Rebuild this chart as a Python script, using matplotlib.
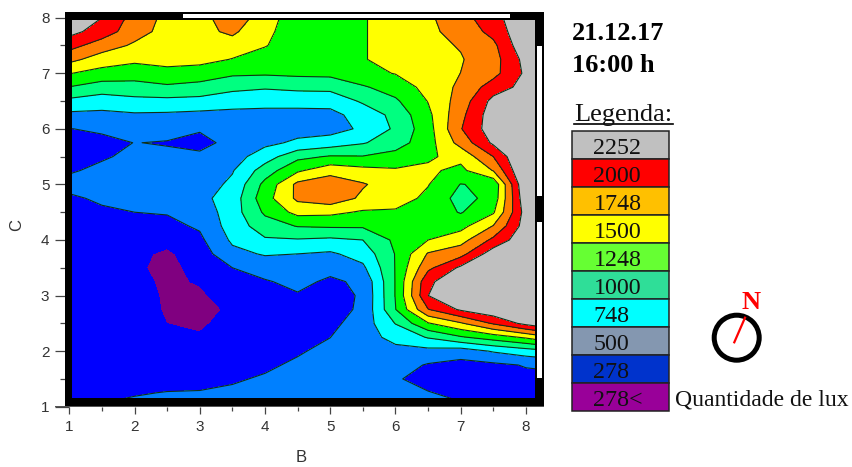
import numpy as np
import matplotlib
matplotlib.use("Agg")
import matplotlib.pyplot as plt
from matplotlib.patches import Circle, Rectangle
from matplotlib.ticker import MultipleLocator

# grid, each list is one column from C=8 down to C=1
c_values = [8, 7.75, 7.5, 7.25, 7, 6.75, 6.5, 6.25, 6, 5.75, 5.5, 5.25, 5, 4.75, 4.5,
            4.25, 4, 3.75, 3.5, 3.25, 3, 2.75, 2.5, 2.25, 2, 1.75, 1.5, 1.25, 1]
b_values = [1, 1.5, 2, 2.5, 3, 3.5, 4, 4.5, 5, 5.5, 6, 6.5, 7, 7.5, 8, 8.2]

b_10 = [2550, 2330, 2095, 1820, 1510, 1240, 940, 690, 495, 430, 440, 480, 560, 470, 420,
        400, 380, 370, 360, 360, 360, 370, 370, 380, 390, 400, 420, 450, 490]
b_15 = [2252, 2140, 1870, 1630, 1410, 1130, 875, 685, 530, 450, 480, 540, 560, 530, 470,
        420, 390, 350, 330, 320, 320, 330, 340, 360, 380, 400, 430, 470, 510]
b_20 = [1900, 1850, 1710, 1555, 1360, 1155, 930, 715, 560, 503, 540, 570, 580, 560, 500,
        420, 370, 320, 300, 320, 330, 310, 320, 340, 370, 400, 440, 490, 530]
b_25 = [1683, 1660, 1630, 1580, 1430, 1205, 935, 705, 560, 490, 530, 580, 590, 570, 515,
        440, 330, 245, 240, 250, 260, 270, 277, 310, 380, 410, 450, 505, 550]
b_30 = [1600, 1670, 1650, 1580, 1380, 1165, 920, 680, 520, 440, 540, 600, 620, 680, 590,
        530, 450, 380, 320, 290, 250, 225, 250, 295, 370, 400, 450, 510, 570]
b_35 = [2000, 1800, 1630, 1490, 1290, 1070, 845, 680, 600, 560, 640, 730, 800, 860, 880,
        860, 790, 680, 500, 420, 360, 305, 340, 380, 410, 440, 480, 530, 590]
b_40 = [1540, 1530, 1510, 1420, 1280, 1030, 810, 690, 650, 690, 880, 1120, 1320, 1400, 1290,
        1130, 970, 770, 600, 480, 440, 420, 410, 420, 440, 470, 520, 590, 650]
b_45 = [1450, 1430, 1400, 1360, 1300, 1070, 810, 690, 660, 790, 1180, 1460, 1810, 1800, 1580,
        1260, 980, 748, 660, 560, 480, 450, 440, 460, 480, 530, 590, 650, 700]
b_50 = [1440, 1420, 1390, 1340, 1310, 1080, 820, 690, 650, 870, 1270, 1660, 1900, 1900, 1560,
        1280, 950, 710, 570, 460, 420, 410, 440, 498, 550, 600, 640, 680, 720]
b_55 = [1470, 1470, 1470, 1480, 1430, 1220, 1040, 830, 790, 980, 1260, 1580, 1770, 1700, 1470,
        1280, 1000, 850, 700, 545, 525, 540, 610, 650, 670, 690, 700, 720, 730]
b_60 = [1680, 1680, 1680, 1620, 1510, 1360, 1210, 1080, 1040, 1130, 1340, 1530, 1620, 1600, 1470,
        1360, 1300, 1260, 1260, 1260, 1260, 1240, 1010, 820, 680, 600, 520, 560, 600]
b_65 = [1710, 1700, 1680, 1650, 1620, 1580, 1510, 1440, 1400, 1400, 1470, 1540, 1510, 1450, 1400,
        1430, 1500, 1770, 1940, 2200, 2250, 1990, 1480, 1020, 670, 480, 430, 510, 560]
b_70 = [1890, 1830, 1765, 1730, 1750, 1800, 1860, 1930, 1985, 1840, 1570, 1440, 1240, 1150, 1230,
        1420, 1650, 1910, 2300, 2450, 2450, 2290, 1720, 1220, 620, 420, 390, 450, 530]
b_75 = [2180, 2080, 1940, 1900, 1920, 2120, 2330, 2400, 2400, 2300, 2000, 1760, 1300, 1340, 1470,
        1760, 2060, 2400, 2550, 2600, 2600, 2450, 2030, 1370, 770, 450, 400, 430, 520]
b_80 = [2420, 2470, 2460, 2340, 2300, 2340, 2480, 2600, 2650, 2650, 2600, 2580, 2530, 2455, 2370,
        2380, 2450, 2600, 2650, 2650, 2650, 2600, 2330, 1540, 880, 515, 440, 430, 460]
b_82 = [2480, 2550, 2550, 2450, 2400, 2450, 2550, 2650, 2700, 2700, 2650, 2620, 2580, 2540, 2470,
        2470, 2530, 2650, 2700, 2700, 2700, 2650, 2420, 1640, 920, 530, 430, 420, 430]

levels = [0, 278, 500, 748, 1000, 1248, 1500, 1748, 2000, 2252, 3000]
map_colors = ["#800080", "#0000FF", "#0080FF", "#00FFFF", "#00FF80",
              "#00FF00", "#FFFF00", "#FF8000", "#FF0000", "#C0C0C0"]

legend_labels = ["2252", "2000", "1748", "1500", "1248", "1000", "748", "500", "278", "278<"]
legend_colors = ["#C0C0C0", "#FF0000", "#FFC000", "#FFFF00", "#66FF33",
                 "#2FDE98", "#00FFFF", "#8497B0", "#0033CC", "#990099"]

z = np.column_stack([b_10, b_15, b_20, b_25, b_30, b_35, b_40, b_45, b_50, b_55, b_60,
                     b_65, b_70, b_75, b_80, b_82])

W, H = 853, 467
fig = plt.figure(figsize=(W / 100, H / 100), dpi=100)

ax = fig.add_axes([69.3 / W, 1 - 406.7 / H, (539 - 69.3) / W, (406.7 - 17.7) / H])
ax.contourf(b_values, c_values, z, levels=levels, colors=map_colors)
ax.contour(b_values, c_values, z, levels=levels[2:-1], colors="#103018", linewidths=0.8)
ax.set_xlim(1, 8.2)
ax.set_ylim(1, 8)

ax.xaxis.set_major_locator(MultipleLocator(1))
ax.xaxis.set_minor_locator(MultipleLocator(0.5))
ax.yaxis.set_major_locator(MultipleLocator(1))
ax.yaxis.set_minor_locator(MultipleLocator(0.5))
ax.tick_params(axis="x", which="major", length=5, width=0.9, color="#444444", pad=4.5)
ax.tick_params(axis="x", which="minor", length=3, width=0.9, color="#444444")
ax.tick_params(axis="y", which="major", length=10.3, width=0.9, color="#444444", pad=4)
ax.tick_params(axis="y", which="minor", length=6.7, width=0.9, color="#444444")
for lab in ax.get_xticklabels() + ax.get_yticklabels():
    lab.set_family("Liberation Sans")
    lab.set_fontsize(11)
    lab.set_color("#333333")
for side in ["top", "right", "left"]:
    ax.spines[side].set_visible(False)
ax.spines["bottom"].set_visible(False)
ax.set_xlabel("B", family="Liberation Sans", fontsize=12, color="#333333")
ax.set_ylabel("C", family="Liberation Sans", fontsize=12, color="#333333")
ax.xaxis.set_label_coords((301 - 69.3) / (539 - 69.3), -43 / 389)
ax.yaxis.set_label_coords(-45 / 469.7, (406.7 - 225) / 389)

# overlay in pixel coordinates for the frame and the side panel
over = fig.add_axes([0, 0, 1, 1], zorder=5)
over.set_xlim(0, W)
over.set_ylim(H, 0)
over.axis("off")
over.patch.set_alpha(0)


def box(x0, y0, x1, y1, color):
    over.add_patch(Rectangle((x0, y0), x1 - x0, y1 - y0, facecolor=color, edgecolor="none"))


# thick broken frame round the map
box(65, 12.3, 544.3, 20, "black")
box(183, 14, 510.5, 17.7, "white")
box(65, 12.3, 71.7, 405.5, "black")
box(65, 398.3, 544.3, 405.5, "black")
box(535, 12.3, 544.3, 405.5, "black")
box(537.3, 46, 542.3, 195.7, "white")
box(537.3, 221.7, 542.3, 378, "white")
box(55, 405.5, 544.3, 407.3, "#555555")

serif = "Liberation Serif"
over.text(572, 40, "21.12.17", family=serif, fontsize=19, fontweight="bold", color="black")
over.text(572, 72, "16:00 h", family=serif, fontsize=19, fontweight="bold", color="black")
over.text(574.5, 120.5, "Legenda:", family=serif, fontsize=19, color="#111111")
over.plot([574.5, 673], [124, 124], color="black", lw=1.2)

row_top = 130.7
row_h = 28.03
for i, (lab, col) in enumerate(zip(legend_labels, legend_colors)):
    y0 = row_top + i * row_h
    over.add_patch(Rectangle((572.5, y0), 97, row_h, facecolor=col, edgecolor="#222222", lw=1.1))
    over.text(593.5, y0 + 23.2, lab, family=serif, fontsize=17.3, color="#111111")

over.text(675, 405.7, "Quantidade de lux", family=serif, fontsize=17, color="#111111")

# north marker
over.add_patch(Circle((736.7, 337.7), 22.5, fill=False, edgecolor="black", lw=3.6))
over.plot([734.3, 745], [342.3, 317.7], color="#FF0000", lw=1.6)
over.text(741.5, 309, "N", family=serif, fontsize=19, fontweight="bold", color="#FF0000")

fig.savefig("out.png", dpi=100)
